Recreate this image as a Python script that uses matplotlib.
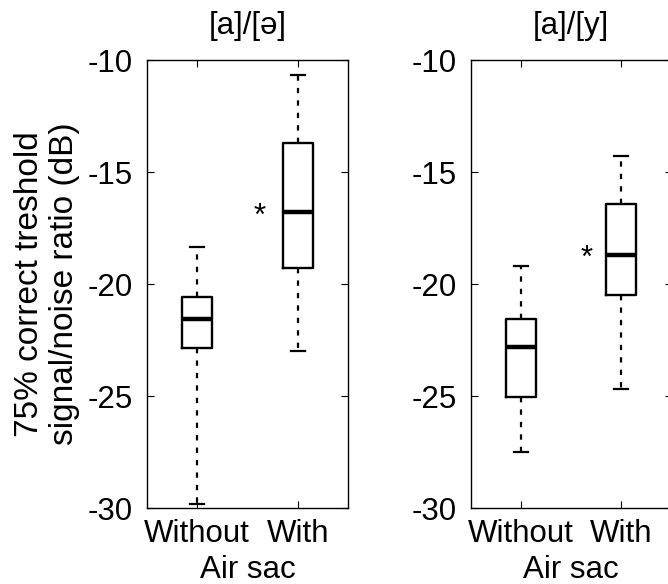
import matplotlib
matplotlib.use('Agg')
from matplotlib import pyplot as plt

plt.rcParams['font.family'] = ['Liberation Sans', 'DejaVu Sans']
plt.rcParams['axes.unicode_minus'] = False

titles = ['[a]/[ə]', '[a]/[y]']
groups = ['Without', 'With']

# five-number summaries (dB)
low_whisker = [[-29.8, -23.0], [-27.5, -24.7]]
q1 = [[-22.85, -19.3], [-25.05, -20.5]]
medians = [[-21.55, -16.8], [-22.8, -18.7]]
q3 = [[-20.6, -13.7], [-21.55, -16.45]]
high_whisker = [[-18.35, -10.65], [-19.2, -14.3]]

# significance star next to the "With" box
star_x = [1.62, 1.66]
star_y = [-17.0, -18.9]

fs = 22.5
fig = plt.figure(figsize=(6.68, 5.84), dpi=100)
lefts = [147 / 668, 470.5 / 668]

for i in range(2):
    ax = fig.add_axes([lefts[i], 76 / 584, 201 / 668, 448 / 584])
    stats = []
    for j in range(2):
        stats.append({'whislo': low_whisker[i][j], 'q1': q1[i][j],
                      'med': medians[i][j], 'q3': q3[i][j],
                      'whishi': high_whisker[i][j], 'fliers': []})
    ax.bxp(stats, positions=[1, 2], widths=0.3, showfliers=False,
           boxprops=dict(color='black', linewidth=1.7),
           medianprops=dict(color='black', linewidth=3.2),
           whiskerprops=dict(color='black', linewidth=1.6, linestyle=(0, (2.4, 3.2))),
           capprops=dict(color='black', linewidth=1.6),
           capwidths=0.14)
    ax.text(star_x[i], star_y[i], '*', fontsize=fs, ha='center', va='center')
    ax.set_xlim(0.5, 2.5)
    ax.set_ylim(-30, -10)
    ax.set_yticks([-30, -25, -20, -15, -10])
    ax.set_xticks([1, 2])
    ax.set_xticklabels(groups)
    ax.tick_params(direction='in', length=5, width=0.8, top=True, right=True,
                   labelsize=fs, color='black')
    ax.tick_params(axis='y', pad=10)
    ax.tick_params(axis='x', pad=8)
    for s in ax.spines.values():
        s.set_linewidth(1.0)
    ax.set_title(titles[i], fontsize=fs, pad=19)
    ax.set_xlabel('Air sac', fontsize=fs, labelpad=4)
    if i == 0:
        ax.set_ylabel('75% correct treshold\nsignal/noise ratio (dB)', fontsize=24,
                      labelpad=6, linespacing=1.15)

fig.savefig('out.png', dpi=100)
